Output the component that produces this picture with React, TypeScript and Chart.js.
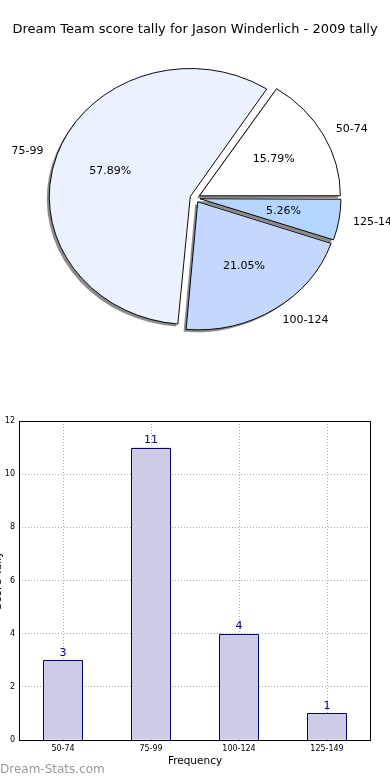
import React, { useEffect, useRef } from 'react';
import { Chart, registerables } from 'chart.js';

Chart.register(...registerables);

const FONT = 'DejaVu Sans';
const TITLE = 'Dream Team score tally for Jason Winderlich - 2009 tally';
const categories = ['50-74', '75-99', '100-124', '125-149'];
const tally = [3, 11, 4, 1];
const sliceColors = ['#ffffff', '#ebf1ff', '#c4d8ff', '#b4d5ff'];
const yTicks = [0, 2, 4, 6, 8, 10, 12];
const X_TITLE = 'Frequency';
const Y_TITLE = 'Score Tally';
const WATERMARK = 'Dream-Stats.com';

// pie geometry (matplotlib-like elliptical pie)
const RADIUS = 141;
const Y_SCALE = 128 / 141;
const EXPLODE = 20; // chart.js offset (drawn as EXPLODE/4 px)
const SHADOW_DX = -2.5;
const SHADOW_DY = 2.5;
const SHADOW_COLOR = '#8c8c8c';

const total = tally.reduce((a, b) => a + b, 0);
// chart.js draws clockwise; matplotlib counter-clockwise from east -> reverse order
const pieLabels = [...categories].reverse();
const pieValues = [...tally].reverse();
const pieColors = [...sliceColors].reverse();

const piePlugin = {
  id: 'ellipticPie',
  beforeDatasetsDraw(chart: any) {
    const ctx = chart.ctx;
    const arcs = chart.getDatasetMeta(0).data;
    const cx = arcs[0].x;
    const cy = arcs[0].y;
    const off = EXPLODE / 4;
    arcs.forEach((a: any) => {
      const circ = a.endAngle - a.startAngle;
      const fix = 1 - Math.sin(Math.min(Math.PI, circ));
      a.outerRadius = RADIUS - off * fix;
    });
    ctx.save();
    ctx.translate(cx, cy);
    ctx.scale(1, Y_SCALE);
    ctx.translate(-cx, -cy);
    ctx.save();
    ctx.fillStyle = SHADOW_COLOR;
    arcs.forEach((a: any) => {
      const mid = (a.startAngle + a.endAngle) / 2;
      const ox = cx + Math.cos(mid) * off + SHADOW_DX;
      const oy = cy + Math.sin(mid) * off + SHADOW_DY / Y_SCALE;
      ctx.beginPath();
      ctx.moveTo(ox, oy);
      ctx.arc(ox, oy, RADIUS, a.startAngle, a.endAngle);
      ctx.closePath();
      ctx.fill();
    });
    ctx.restore();
  },
  afterDatasetsDraw(chart: any) {
    chart.ctx.restore();
  },
  afterDraw(chart: any) {
    const ctx = chart.ctx;
    const arcs = chart.getDatasetMeta(0).data;
    const off = EXPLODE / 4;
    ctx.save();
    ctx.fillStyle = '#000';
    ctx.font = `11px "${FONT}"`;
    ctx.textBaseline = 'middle';
    arcs.forEach((a: any, i: number) => {
      const mid = (a.startAngle + a.endAngle) / 2;
      const c = Math.cos(mid);
      const s = Math.sin(mid);
      const wx = a.x + c * off;
      const wy = a.y + s * off * Y_SCALE;
      ctx.textAlign = c > 0 ? 'left' : 'right';
      ctx.fillText(pieLabels[i], wx + c * RADIUS * 1.1, wy + s * RADIUS * Y_SCALE * 1.1);
      ctx.textAlign = 'center';
      const pct = ((pieValues[i] / total) * 100).toFixed(2) + '%';
      ctx.fillText(pct, wx + c * RADIUS * 0.6, wy + s * RADIUS * Y_SCALE * 0.6);
    });
    ctx.restore();
  },
};

const barPlugin = {
  id: 'barDecor',
  afterDraw(chart: any) {
    const ctx = chart.ctx;
    const { left, top, right, bottom } = chart.chartArea;
    ctx.save();
    // redraw bar outlines crisply on top of the grid
    ctx.strokeStyle = '#000080';
    ctx.lineWidth = 1;
    chart.getDatasetMeta(0).data.forEach((el: any) => {
      const half = el.width / 2;
      const x0 = Math.round(el.x - half) + 0.5;
      const x1 = Math.round(el.x + half) - 0.5;
      const y0 = Math.round(el.y) + 0.5;
      const yb = Math.round(el.base);
      ctx.beginPath();
      ctx.moveTo(x0, yb);
      ctx.lineTo(x0, y0);
      ctx.lineTo(x1, y0);
      ctx.lineTo(x1, yb);
      ctx.stroke();
    });
    ctx.strokeStyle = '#000';
    ctx.strokeRect(Math.round(left) + 0.5, Math.round(top) + 0.5, Math.round(right - left) - 1, Math.round(bottom - top));
    ctx.fillStyle = '#000080';
    ctx.font = `11px "${FONT}"`;
    ctx.textAlign = 'center';
    ctx.textBaseline = 'bottom';
    chart.getDatasetMeta(0).data.forEach((el: any, i: number) => {
      ctx.fillText(String(tally[i]), el.x, el.y - 2);
    });
    ctx.restore();
  },
};

export default function App() {
  const pieRef = useRef<HTMLCanvasElement>(null);
  const barRef = useRef<HTMLCanvasElement>(null);

  useEffect(() => {
    const pie = new Chart(pieRef.current as HTMLCanvasElement, {
      type: 'pie',
      data: {
        labels: pieLabels,
        datasets: [
          {
            data: pieValues,
            backgroundColor: pieColors,
            borderColor: '#000',
            borderWidth: 1,
            offset: EXPLODE,
            hoverOffset: EXPLODE,
            clip: false,
            radius: RADIUS,
          } as any,
        ],
      },
      options: {
        animation: false,
        responsive: false,
        rotation: 90,
        events: [],
        layout: { padding: { top: 0, bottom: 41.6, left: 0, right: 0 } },
        plugins: {
          legend: { display: false },
          tooltip: { enabled: false },
          title: {
            display: true,
            text: TITLE,
            color: '#000',
            font: { family: FONT, size: 13, weight: 'normal' },
            padding: { top: 22, bottom: 0 },
          },
        },
      } as any,
      plugins: [piePlugin],
    });

    const bar = new Chart(barRef.current as HTMLCanvasElement, {
      type: 'bar',
      data: {
        labels: categories,
        datasets: [
          {
            data: tally,
            backgroundColor: '#ccccE6',
            borderColor: '#000080',
            borderWidth: 0,
            barPercentage: 0.4545,
            categoryPercentage: 1,
          },
        ],
      },
      options: {
        animation: false,
        responsive: false,
        events: [],
        layout: { padding: { top: 21, right: 19, left: 0, bottom: 0 } },
        plugins: { legend: { display: false }, tooltip: { enabled: false } },
        scales: {
          x: {
            z: 1,
            grid: { offset: false, color: '#aaaaaa', drawTicks: false },
            border: { display: false, dash: [1, 2] },
            ticks: { font: { family: FONT, size: 8 }, color: '#000', padding: 4 },
            title: {
              display: true,
              text: X_TITLE,
              color: '#000',
              font: { family: FONT, size: 10.5 },
              padding: { top: 0, bottom: 12.4 },
            },
            afterFit: (s: any) => {
              s.height = 40;
            },
          },
          y: {
            z: 1,
            min: yTicks[0],
            max: yTicks[yTicks.length - 1],
            afterBuildTicks: (s: any) => {
              s.ticks = yTicks.map((v) => ({ value: v }));
            },
            grid: { color: '#aaaaaa', drawTicks: false },
            border: { display: false, dash: [1, 2] },
            ticks: { font: { family: FONT, size: 8 }, color: '#000', padding: 4 },
            title: {
              display: true,
              text: Y_TITLE,
              color: '#000',
              font: { family: FONT, size: 11 },
              padding: { top: 0, bottom: 0 },
            },
            afterFit: (s: any) => {
              s.width = 27;
            },
          },
        },
      } as any,
      plugins: [barPlugin],
    });

    return () => {
      pie.destroy();
      bar.destroy();
    };
  }, []);

  return (
    <div style={{ position: 'absolute', left: 0, top: 0, width: 390, height: 780, overflow: 'hidden', background: '#fff' }}>
      <canvas ref={pieRef} width={390} height={400} style={{ position: 'absolute', left: 0, top: 0, width: 390, height: 400 }} />
      <canvas ref={barRef} width={398} height={380} style={{ position: 'absolute', left: -8, top: 400, width: 398, height: 380 }} />
      <div
        style={{
          position: 'absolute',
          left: 0,
          top: 762,
          fontFamily: FONT,
          fontSize: 12,
          lineHeight: '14px',
          color: '#999999',
          whiteSpace: 'nowrap',
        }}
      >
        {WATERMARK}
      </div>
    </div>
  );
}
